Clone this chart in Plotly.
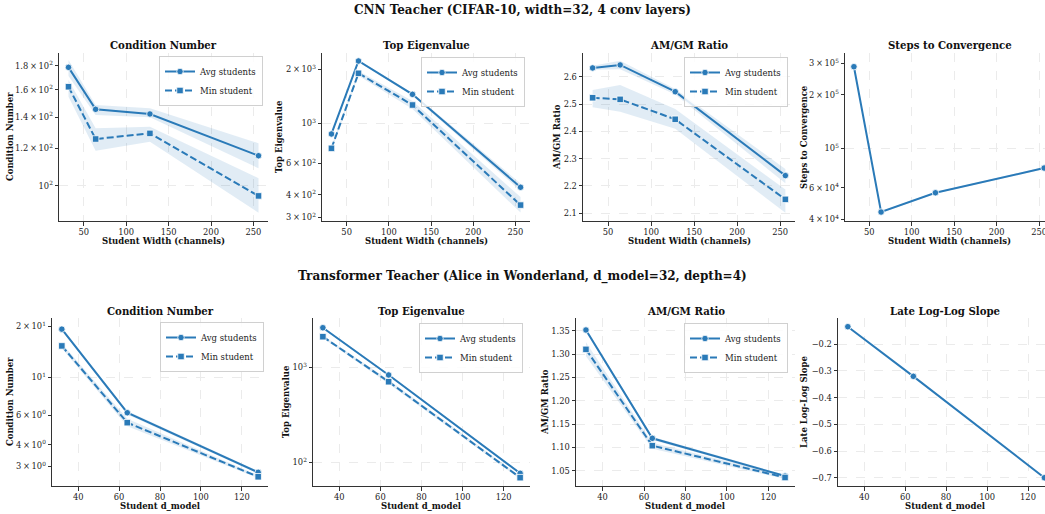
import math
import plotly.graph_objects as go

# ---------------- data ----------------
widths = [32, 64, 128, 256]
cnn_cond_avg = [178.6, 145.4, 142.1, 115.8]
cnn_cond_avg_lo = [171.1, 141.4, 139.8, 108.9]
cnn_cond_avg_hi = [185.1, 148.5, 146.1, 123.1]
cnn_cond_min = [162.4, 125.7, 129.2, 95.1]
cnn_cond_min_lo = [154.6, 118.7, 124.0, 87.6]
cnn_cond_min_hi = [167.9, 132.5, 133.5, 103.7]

cnn_eig_avg = [872, 2225, 1450, 440]
cnn_eig_avg_lo = [860, 2195, 1425, 420]
cnn_eig_avg_hi = [885, 2255, 1475, 462]
cnn_eig_min = [725, 1900, 1265, 350]
cnn_eig_min_lo = [705, 1840, 1200, 318]
cnn_eig_min_hi = [745, 1960, 1330, 388]

cnn_amgm_avg = [2.632, 2.643, 2.545, 2.238]
cnn_amgm_avg_lo = [2.625, 2.627, 2.535, 2.210]
cnn_amgm_avg_hi = [2.640, 2.658, 2.555, 2.262]
cnn_amgm_min = [2.523, 2.517, 2.444, 2.151]
cnn_amgm_min_lo = [2.488, 2.472, 2.409, 2.102]
cnn_amgm_min_hi = [2.551, 2.570, 2.482, 2.187]

cnn_steps = [287000, 43900, 56300, 77500]
cnn_steps_lo = [283000, 43400, 55700, 76500]
cnn_steps_hi = [291000, 44400, 56900, 78500]

d_models = [32, 64, 128]
tf_cond_avg = [19.2, 6.19, 2.76]
tf_cond_avg_lo = [18.8, 6.05, 2.71]
tf_cond_avg_hi = [19.6, 6.33, 2.81]
tf_cond_min = [15.3, 5.41, 2.60]
tf_cond_min_lo = [14.8, 5.15, 2.55]
tf_cond_min_hi = [15.8, 5.70, 2.65]

tf_eig_avg = [2610, 830, 76.6]
tf_eig_avg_lo = [2560, 810, 74.5]
tf_eig_avg_hi = [2660, 850, 78.7]
tf_eig_min = [2100, 705, 68.9]
tf_eig_min_lo = [2040, 670, 66.5]
tf_eig_min_hi = [2160, 740, 71.3]

tf_amgm_avg = [1.3515, 1.1194, 1.0385]
tf_amgm_avg_lo = [1.348, 1.116, 1.036]
tf_amgm_avg_hi = [1.355, 1.123, 1.041]
tf_amgm_min = [1.310, 1.1036, 1.0354]
tf_amgm_min_lo = [1.295, 1.097, 1.032]
tf_amgm_min_hi = [1.325, 1.110, 1.039]

tf_slope = [-0.134, -0.320, -0.700]

# ---------------- style ----------------
W, H = 1045, 514
BLUE = '#2a7ab8'
BAND = 'rgba(42,122,184,0.14)'
FONT = 'DejaVu Serif'
TXT = '#222222'
TICK_SIZE = 8.3
LABEL_SIZE = 8.5
TITLE_SIZE = 10.2
SUPTITLE_SIZE = 12


def px(x):
    return x / W


def py(y):
    return 1 - y / H


fig = go.Figure()


def add_band(i, x, lo, hi):
    fig.add_trace(go.Scatter(
        x=list(x) + list(x)[::-1], y=list(hi) + list(lo)[::-1],
        fill='toself', fillcolor=BAND, line=dict(width=0), mode='lines',
        hoverinfo='skip', showlegend=False,
        xaxis='x%d' % i, yaxis='y%d' % i))


def add_line(i, x, y, name, symbol, dash, legend=None):
    fig.add_trace(go.Scatter(
        x=x, y=y, mode='lines+markers', name=name,
        line=dict(color=BLUE, width=2, dash=dash),
        marker=dict(symbol=symbol, size=6.5, color=BLUE,
                    line=dict(color='white', width=0.8)),
        showlegend=legend is not None, legend=legend or 'legend',
        xaxis='x%d' % i, yaxis='y%d' % i))


DASH = '7px,3px'

# top row
add_band(1, widths, cnn_cond_avg_lo, cnn_cond_avg_hi)
add_band(1, widths, cnn_cond_min_lo, cnn_cond_min_hi)
add_line(1, widths, cnn_cond_avg, 'Avg students', 'circle', 'solid', 'legend')
add_line(1, widths, cnn_cond_min, 'Min student', 'square', DASH, 'legend')

add_band(2, widths, cnn_eig_avg_lo, cnn_eig_avg_hi)
add_band(2, widths, cnn_eig_min_lo, cnn_eig_min_hi)
add_line(2, widths, cnn_eig_avg, 'Avg students', 'circle', 'solid', 'legend2')
add_line(2, widths, cnn_eig_min, 'Min student', 'square', DASH, 'legend2')

add_band(3, widths, cnn_amgm_avg_lo, cnn_amgm_avg_hi)
add_band(3, widths, cnn_amgm_min_lo, cnn_amgm_min_hi)
add_line(3, widths, cnn_amgm_avg, 'Avg students', 'circle', 'solid', 'legend3')
add_line(3, widths, cnn_amgm_min, 'Min student', 'square', DASH, 'legend3')

add_band(4, widths, cnn_steps_lo, cnn_steps_hi)
add_line(4, widths, cnn_steps, 'Steps', 'circle', 'solid', None)

# bottom row
add_band(5, d_models, tf_cond_avg_lo, tf_cond_avg_hi)
add_band(5, d_models, tf_cond_min_lo, tf_cond_min_hi)
add_line(5, d_models, tf_cond_avg, 'Avg students', 'circle', 'solid', 'legend4')
add_line(5, d_models, tf_cond_min, 'Min student', 'square', DASH, 'legend4')

add_band(6, d_models, tf_eig_avg_lo, tf_eig_avg_hi)
add_band(6, d_models, tf_eig_min_lo, tf_eig_min_hi)
add_line(6, d_models, tf_eig_avg, 'Avg students', 'circle', 'solid', 'legend5')
add_line(6, d_models, tf_eig_min, 'Min student', 'square', DASH, 'legend5')

add_band(7, d_models, tf_amgm_avg_lo, tf_amgm_avg_hi)
add_band(7, d_models, tf_amgm_min_lo, tf_amgm_min_hi)
add_line(7, d_models, tf_amgm_avg, 'Avg students', 'circle', 'solid', 'legend6')
add_line(7, d_models, tf_amgm_min, 'Min student', 'square', DASH, 'legend6')

add_line(8, d_models, tf_slope, 'Slope', 'circle', 'solid', None)

# ---------------- axes ----------------
xdoms = {1: (59, 268), 2: (322, 530), 3: (583, 795), 4: (845, 1045),
         5: (52, 268), 6: (313, 530), 7: (576, 795), 8: (838, 1045)}
center_x = {1: 163.5, 2: 426, 3: 689, 4: 949.5, 5: 160, 6: 421.5, 7: 685.5, 8: 945.5}
ytitle_x = {1: 10, 2: 279, 3: 557, 4: 804, 5: 10, 6: 286, 7: 545, 8: 804}
top_y = (221, 53)
bot_y = (486, 318)

xranges = {1: [20.8, 267.2], 2: [20.8, 267.2], 3: [20.8, 267.2], 4: [21.5, 257.0],
           5: [27.2, 132.8], 6: [27.2, 132.8], 7: [27.2, 132.8], 8: [27.2, 128.3]}
xticks_top = [50, 100, 150, 200, 250]
xticks_bot = [40, 60, 80, 100, 120]

ytitles = {1: 'Condition Number', 2: 'Top Eigenvalue', 3: 'AM/GM Ratio',
           4: 'Steps to Convergence', 5: 'Condition Number', 6: 'Top Eigenvalue',
           7: 'AM/GM Ratio', 8: 'Late Log-Log Slope'}
titles = ytitles
xtitles = {i: ('Student Width (channels)' if i <= 4 else 'Student d_model') for i in range(1, 9)}


def sup(m, e):
    if m is None:
        return '10<sup>%d</sup>' % e
    return '%s\u2009×\u200910<sup>%d</sup>' % (m, e)


ylog = {
    1: dict(range=[math.log10(84.1), math.log10(191.6)],
            vals=[100, 120, 140, 160, 180],
            text=[sup(None, 2), sup('1.2', 2), sup('1.4', 2), sup('1.6', 2), sup('1.8', 2)],
            grid=[100]),
    2: dict(range=[math.log10(285.3), math.log10(2466)],
            vals=[300, 400, 600, 1000, 2000],
            text=[sup('3', 2), sup('4', 2), sup('6', 2), sup(None, 3), sup('2', 3)],
            grid=[1000]),
    4: dict(range=[math.log10(39100), math.log10(342600)],
            vals=[40000, 60000, 100000, 200000, 300000],
            text=[sup('4', 4), sup('6', 4), sup(None, 5), sup('2', 5), sup('3', 5)],
            grid=[100000]),
    5: dict(range=[math.log10(2.294), math.log10(22.33)],
            vals=[3, 4, 6, 10, 20],
            text=[sup('3', 0), sup('4', 0), sup('6', 0), sup(None, 1), sup('2', 1)],
            grid=[10]),
    6: dict(range=[math.log10(56.3), math.log10(3303)],
            vals=[100, 1000],
            text=[sup(None, 2), sup(None, 3)],
            grid=[100, 1000]),
}
ylin = {
    3: dict(range=[2.0718, 2.6867], vals=[2.1, 2.2, 2.3, 2.4, 2.5, 2.6],
            text=['2.1', '2.2', '2.3', '2.4', '2.5', '2.6']),
    7: dict(range=[1.0172, 1.3772], vals=[1.05, 1.10, 1.15, 1.20, 1.25, 1.30, 1.35],
            text=['1.05', '1.10', '1.15', '1.20', '1.25', '1.30', '1.35']),
    8: dict(range=[-0.731, -0.1014], vals=[-0.7, -0.6, -0.5, -0.4, -0.3, -0.2],
            text=['−0.7', '−0.6', '−0.5', '−0.4', '−0.3', '−0.2']),
}

GRID = '#ebebeb'
common = dict(showline=True, linecolor='#333333', linewidth=1, ticks='outside',
              ticklen=3.5, tickwidth=0.8, tickcolor='#333333', zeroline=False,
              automargin=False,
              tickfont=dict(family=FONT, size=TICK_SIZE, color=TXT))

layout = {}
annotations = []
for i in range(1, 9):
    x0, x1 = xdoms[i]
    yb, yt = top_y if i <= 4 else bot_y
    xa = dict(common)
    xa.update(domain=[px(x0), min(px(x1), 1.0)], range=xranges[i], anchor='y%d' % i,
              tickmode='array', tickvals=xticks_top if i <= 4 else xticks_bot,
              ticklabeloverflow='allow',
              showgrid=True, gridcolor=GRID, griddash='dash', gridwidth=0.6)
    ya = dict(common)
    ya.update(domain=[py(yb), py(yt)], anchor='x%d' % i)
    if i in ylog:
        d = ylog[i]
        ya.update(type='log', range=d['range'], tickmode='array', tickvals=d['vals'],
                  ticktext=d['text'], showgrid=False,
                  minor=dict(tickmode='array', tickvals=d['grid'], showgrid=True,
                             gridcolor=GRID, griddash='dash', gridwidth=0.6, ticks=''))
    else:
        d = ylin[i]
        ya.update(range=d['range'], tickmode='array', tickvals=d['vals'], ticktext=d['text'],
                  showgrid=True, gridcolor=GRID, griddash='dash', gridwidth=0.6)
    key = '' if i == 1 else str(i)
    layout['xaxis' + key] = xa
    layout['yaxis' + key] = ya
    # subplot title
    annotations.append(dict(text='<b>%s</b>' % titles[i], x=px(center_x[i]),
                            y=py(45 if i <= 4 else 311), xref='paper', yref='paper',
                            xanchor='center', yanchor='middle', showarrow=False,
                            font=dict(family=FONT, size=TITLE_SIZE, color='#111111')))
    # x title
    annotations.append(dict(text='<b>%s</b>' % xtitles[i], x=px(center_x[i]),
                            y=py(241 if i <= 4 else 506), xref='paper', yref='paper',
                            xanchor='center', yanchor='middle', showarrow=False,
                            font=dict(family=FONT, size=LABEL_SIZE, color='#111111')))
    # y title
    annotations.append(dict(text='<b>%s</b>' % ytitles[i], x=px(ytitle_x[i]),
                            y=py((yb + yt) / 2), xref='paper', yref='paper',
                            xanchor='center', yanchor='middle', showarrow=False,
                            textangle=-90,
                            font=dict(family=FONT, size=LABEL_SIZE, color='#111111')))

annotations.append(dict(text='<b>CNN Teacher (CIFAR-10, width=32, 4 conv layers)</b>',
                        x=0.5, y=py(10), xref='paper', yref='paper', xanchor='center',
                        yanchor='middle', showarrow=False,
                        font=dict(family=FONT, size=SUPTITLE_SIZE, color='#111111')))
annotations.append(dict(text='<b>Transformer Teacher (Alice in Wonderland, d_model=32, depth=4)</b>',
                        x=0.5, y=py(276), xref='paper', yref='paper', xanchor='center',
                        yanchor='middle', showarrow=False,
                        font=dict(family=FONT, size=SUPTITLE_SIZE, color='#111111')))

leg_common = dict(xanchor='right', yanchor='top', bgcolor='rgba(255,255,255,0.85)',
                  bordercolor='#d0d0d0', borderwidth=1, tracegroupgap=0,
                  itemwidth=30, font=dict(family=FONT, size=8.5, color=TXT))
leg_pos = {'legend': (263, 56), 'legend2': (525, 57), 'legend3': (788, 57),
           'legend4': (264, 322), 'legend5': (523, 323), 'legend6': (788, 323)}
for k, (lx, ly) in leg_pos.items():
    d = dict(leg_common)
    d.update(x=px(lx), y=py(ly))
    layout[k] = d

fig.update_layout(**layout)
fig.update_layout(width=W, height=H, margin=dict(l=0, r=0, t=0, b=0),
                  paper_bgcolor='white', plot_bgcolor='white',
                  annotations=annotations, font=dict(family=FONT, color=TXT))

fig.write_html('out.html')
